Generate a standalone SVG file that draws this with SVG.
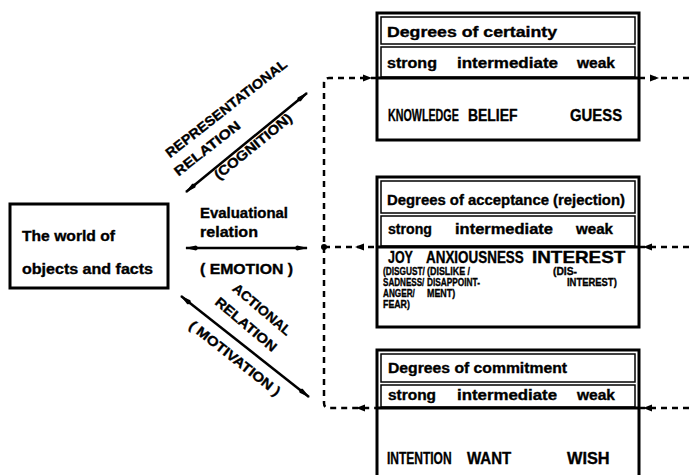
<svg xmlns="http://www.w3.org/2000/svg" width="690" height="475" viewBox="0 0 690 475">
<style>
text{font-family:"Liberation Sans",Arial,sans-serif;font-weight:bold;fill:#000;stroke:#000;stroke-width:0.35}
.t{font-size:14px}
.c{font-size:16px}
.s{font-size:10.5px}
.d{font-size:13.5px}
.outer{fill:#fff;stroke:#000;stroke-width:3}
.inner{fill:none;stroke:#000;stroke-width:1.5}
.div{stroke:#000;stroke-width:3}
.dash{fill:none;stroke:#000;stroke-width:2.5;stroke-dasharray:6 5}
.solid{stroke:#000;stroke-width:2.5;fill:none}
</style>
<defs>
<marker id="sp" viewBox="0 0 14 8" refX="13" refY="4" markerWidth="14" markerHeight="8" markerUnits="userSpaceOnUse" orient="auto-start-reverse">
<path d="M0,4 L3,1.5 L14,4 L3,6.5 Z" fill="#000"/>
</marker>
<path id="ah" d="M0,0 L-9,-3.5 L-9,3.5 Z" fill="#000"/>
</defs>
<rect width="690" height="475" fill="#fff"/>

<g id="connectors">
<path class="dash" d="M377,78 H329 Q324,78 324,83 V403 Q324,408 329,408 H377"/>
<path class="dash" d="M324,247 H377"/>
<circle cx="324" cy="247" r="3" fill="#000"/>
<use href="#ah" transform="translate(372,78)"/>
<use href="#ah" transform="translate(355,247) rotate(180)"/>
<use href="#ah" transform="translate(356,408) rotate(180)"/>
<path class="dash" d="M639,78 H690"/>
<path class="dash" d="M639,247 H690"/>
<path class="dash" d="M639,408 H690"/>
<use href="#ah" transform="translate(659,78)"/>
<use href="#ah" transform="translate(643,247) rotate(180)"/>
<use href="#ah" transform="translate(643,408) rotate(180)"/>
<line class="solid" x1="186" y1="192" x2="307" y2="93" marker-start="url(#sp)" marker-end="url(#sp)"/>
<line class="solid" x1="186" y1="248" x2="307" y2="248" marker-start="url(#sp)" marker-end="url(#sp)"/>
<line class="solid" x1="181" y1="296" x2="309" y2="397" marker-start="url(#sp)" marker-end="url(#sp)"/>
</g>

<g id="relation-labels">
<text class="d" transform="translate(229,112) rotate(-38)" text-anchor="middle" textLength="150" lengthAdjust="spacingAndGlyphs">REPRESENTATIONAL</text>
<text class="d" transform="translate(210,152) rotate(-38)" text-anchor="middle" textLength="80" lengthAdjust="spacingAndGlyphs">RELATION</text>
<text class="d" transform="translate(256,150) rotate(-39)" text-anchor="middle" textLength="96" lengthAdjust="spacingAndGlyphs">(COGNITION)</text>
<text class="t" x="200" y="218" textLength="88" lengthAdjust="spacingAndGlyphs">Evaluational</text>
<text class="t" x="200" y="237" textLength="58" lengthAdjust="spacingAndGlyphs">relation</text>
<text class="t" x="200" y="274" textLength="93" lengthAdjust="spacingAndGlyphs">( EMOTION )</text>
<text class="d" transform="translate(259,313) rotate(40)" text-anchor="middle" textLength="72" lengthAdjust="spacingAndGlyphs">ACTIONAL</text>
<text class="d" transform="translate(243,328) rotate(40)" text-anchor="middle" textLength="76" lengthAdjust="spacingAndGlyphs">RELATION</text>
<text class="d" transform="translate(232,362) rotate(38.3)" text-anchor="middle" textLength="112" lengthAdjust="spacingAndGlyphs">( MOTIVATION )</text>
</g>

<g id="world">
<rect class="outer" x="10" y="204" width="158" height="84"/>
<text class="t" x="22" y="241" textLength="93" lengthAdjust="spacingAndGlyphs">The world of</text>
<text class="t" x="22" y="274" textLength="131" lengthAdjust="spacingAndGlyphs">objects and facts</text>
</g>

<g id="certainty">
<rect class="outer" x="377" y="13" width="262" height="127"/>
<rect class="inner" x="381" y="17" width="254" height="27"/>
<rect class="inner" x="381" y="47" width="254" height="30"/>
<line class="div" x1="377" y1="78" x2="639" y2="78"/>
<text class="t" x="387" y="37" textLength="170" lengthAdjust="spacingAndGlyphs">Degrees of certainty</text>
<text class="t" x="387" y="68" textLength="50" lengthAdjust="spacingAndGlyphs">strong</text>
<text class="t" x="457" y="68" textLength="101" lengthAdjust="spacingAndGlyphs">intermediate</text>
<text class="t" x="577" y="68" textLength="38" lengthAdjust="spacingAndGlyphs">weak</text>
<text class="c" transform="translate(388,121) scale(0.67,1)">KNOWLEDGE</text>
<text class="c" transform="translate(468,121) scale(0.87,1)">BELIEF</text>
<text class="c" transform="translate(570,121) scale(0.93,1)">GUESS</text>
</g>

<g id="acceptance">
<rect class="outer" x="377" y="177" width="262" height="150"/>
<rect class="inner" x="381" y="181" width="254" height="32"/>
<rect class="inner" x="381" y="216" width="254" height="30"/>
<line class="div" x1="377" y1="247" x2="639" y2="247"/>
<text class="t" x="387" y="205" textLength="238" lengthAdjust="spacingAndGlyphs">Degrees of acceptance (rejection)</text>
<text class="t" x="388" y="234" textLength="44" lengthAdjust="spacingAndGlyphs">strong</text>
<text class="t" x="455" y="234" textLength="98" lengthAdjust="spacingAndGlyphs">intermediate</text>
<text class="t" x="576" y="234" textLength="37" lengthAdjust="spacingAndGlyphs">weak</text>
<text class="c" transform="translate(388,263) scale(0.78,1)">JOY</text>
<text class="c" transform="translate(426,263) scale(0.84,1)">ANXIOUSNESS</text>
<text class="c" transform="translate(532,263) scale(1.18,1)">INTEREST</text>
<text class="s" transform="translate(383,275) scale(0.79,1)">(DISGUST/</text>
<text class="s" transform="translate(383,286) scale(0.77,1)">SADNESS/</text>
<text class="s" transform="translate(383,297) scale(0.78,1)">ANGER/</text>
<text class="s" transform="translate(383,308) scale(0.84,1)">FEAR)</text>
<text class="s" transform="translate(427,275) scale(0.85,1)">(DISLIKE /</text>
<text class="s" transform="translate(427,286) scale(0.79,1)">DISAPPOINT-</text>
<text class="s" transform="translate(427,297) scale(0.85,1)">MENT)</text>
<text class="s" transform="translate(553,275) scale(0.98,1)">(DIS-</text>
<text class="s" transform="translate(567,286) scale(0.9,1)">INTEREST)</text>
</g>

<g id="commitment">
<rect class="outer" x="377" y="350" width="262" height="135"/>
<rect class="inner" x="381" y="354" width="254" height="28"/>
<rect class="inner" x="381" y="385" width="254" height="22"/>
<line class="div" x1="377" y1="408" x2="639" y2="408"/>
<text class="t" x="388" y="373" textLength="179" lengthAdjust="spacingAndGlyphs">Degrees of commitment</text>
<text class="t" x="388" y="400" textLength="48" lengthAdjust="spacingAndGlyphs">strong</text>
<text class="t" x="457" y="400" textLength="100" lengthAdjust="spacingAndGlyphs">intermediate</text>
<text class="t" x="577" y="400" textLength="38" lengthAdjust="spacingAndGlyphs">weak</text>
<text class="c" transform="translate(387,464) scale(0.75,1)">INTENTION</text>
<text class="c" transform="translate(467,464) scale(0.94,1)">WANT</text>
<text class="c" transform="translate(567,464) scale(1.02,1)">WISH</text>
</g>
</svg>
